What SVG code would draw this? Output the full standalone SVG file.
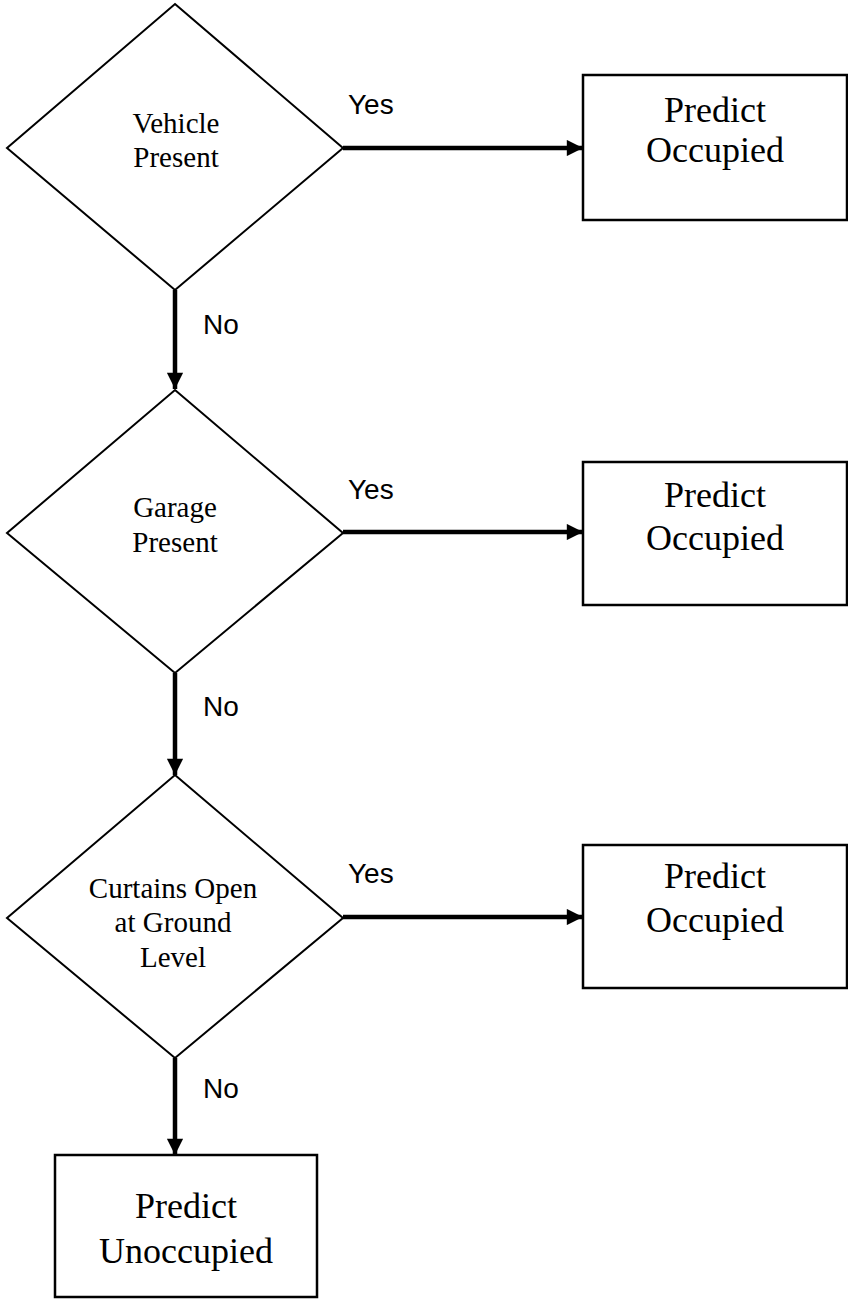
<svg xmlns="http://www.w3.org/2000/svg" width="848" height="1299" viewBox="0 0 848 1299">
<style>
.shape{fill:#fff;stroke:#000;stroke-width:2}
.box{fill:#fff;stroke:#000;stroke-width:2.5}
.conn{stroke:#000;stroke-width:4.5;fill:none}
.t{font-family:"Liberation Serif",serif;fill:#000;text-anchor:middle}
.dt{font-size:29px}
.bt{font-size:36px}
.lbl{font-family:"Liberation Sans",sans-serif;font-size:28px;fill:#000}
</style>
<defs>
<marker id="ah" viewBox="0 0 10 10" refX="10" refY="5" markerWidth="4" markerHeight="3.6" markerUnits="strokeWidth" orient="auto">
<path d="M0,0 L10,5 L0,10 Z" fill="#000"/>
</marker>
</defs>
<rect width="848" height="1299" fill="#fff"/>
<g id="connectors">
<line class="conn" x1="343" y1="148" x2="583" y2="148" marker-end="url(#ah)"/>
<line class="conn" x1="175" y1="290" x2="175" y2="389" marker-end="url(#ah)"/>
<line class="conn" x1="343" y1="532" x2="583" y2="532" marker-end="url(#ah)"/>
<line class="conn" x1="175" y1="673" x2="175" y2="775" marker-end="url(#ah)"/>
<line class="conn" x1="343" y1="917" x2="583" y2="917" marker-end="url(#ah)"/>
<line class="conn" x1="175" y1="1058" x2="175" y2="1155" marker-end="url(#ah)"/>
<text class="lbl" x="348" y="114">Yes</text>
<text class="lbl" x="203" y="334">No</text>
<text class="lbl" x="348" y="499">Yes</text>
<text class="lbl" x="203" y="716">No</text>
<text class="lbl" x="348" y="883">Yes</text>
<text class="lbl" x="203" y="1098">No</text>
</g>
<g id="d1">
<polygon class="shape" points="175,4 343,148 175,290 7,148"/>
<text class="t dt" x="176" y="133">Vehicle</text>
<text class="t dt" x="176" y="167">Present</text>
</g>
<g id="b1">
<rect class="box" x="583" y="75" width="264" height="145"/>
<text class="t bt" x="715" y="122">Predict</text>
<text class="t bt" x="715" y="162">Occupied</text>
</g>
<g id="d2">
<polygon class="shape" points="175,390 343,533 175,673 7,533"/>
<text class="t dt" x="175" y="517">Garage</text>
<text class="t dt" x="175" y="552">Present</text>
</g>
<g id="b2">
<rect class="box" x="583" y="462" width="264" height="143"/>
<text class="t bt" x="715" y="507">Predict</text>
<text class="t bt" x="715" y="550">Occupied</text>
</g>
<g id="d3">
<polygon class="shape" points="175,775 343,918 175,1058 7,918"/>
<text class="t dt" x="173" y="898">Curtains Open</text>
<text class="t dt" x="173" y="932">at Ground</text>
<text class="t dt" x="173" y="967">Level</text>
</g>
<g id="b3">
<rect class="box" x="583" y="845" width="264" height="143"/>
<text class="t bt" x="715" y="888">Predict</text>
<text class="t bt" x="715" y="932">Occupied</text>
</g>
<g id="b4">
<rect class="box" x="55" y="1155" width="262" height="142"/>
<text class="t bt" x="186" y="1218">Predict</text>
<text class="t bt" x="186" y="1263">Unoccupied</text>
</g>
</svg>
